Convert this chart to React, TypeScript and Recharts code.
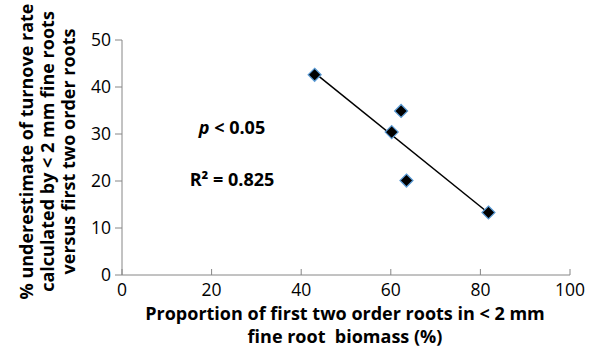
import React from "react";
import { ScatterChart, Scatter, XAxis, YAxis, Label } from "recharts";

// values
const proportion = [43, 62.3, 60.2, 63.5, 81.8];
const underestimate = [42.6, 34.9, 30.4, 20.1, 13.3];
const fitX = [43, 81.8];
const fitY = [43.0, 13.2];
const xTicks = [0, 20, 40, 60, 80, 100];
const yTicks = [0, 10, 20, 30, 40, 50];

const points = proportion.map((x, i) => ({ x, y: underestimate[i] }));
const fit = fitX.map((x, i) => ({ x, y: fitY[i] }));

const FONT = "'Open Sans', sans-serif";
const AXIS = "#868686";

const Diamond = (p: any) => {
  const { cx, cy } = p;
  const r = 6.5;
  return (
    <polygon
      points={`${cx},${cy - r} ${cx + r},${cy} ${cx},${cy + r} ${cx - r},${cy}`}
      fill="#000"
      stroke="#5b9bd5"
      strokeWidth={1.2}
    />
  );
};

const XTick = (p: any) => {
  const { x, y, payload } = p;
  return (
    <g>
      <line x1={x} x2={x} y1={y - 6} y2={y} stroke={AXIS} />
      <text x={x} y={y + 21} textAnchor="middle" fontSize={17.5} fill="#000" fontFamily={FONT}>
        {payload.value}
      </text>
    </g>
  );
};

const XTitle = (p: any) => {
  const { x, y, width } = p.viewBox;
  const cx = x + width / 2 - 1;
  return (
    <g fontSize={18} fontWeight="bold" fontFamily={FONT} fill="#000">
      <text x={cx} y={y + 45} textAnchor="middle">
        Proportion of first two order roots in &lt; 2 mm
      </text>
      <text x={cx} y={y + 68} textAnchor="middle" style={{ whiteSpace: "pre" }}>
        fine root  biomass (%)
      </text>
    </g>
  );
};

const YTitle = (p: any) => {
  const { y, height } = p.viewBox;
  const cy = y + height / 2 - 6;
  const lines = [
    "% underestimate of turnove rate",
    "calculated by < 2 mm fine roots",
    "versus first two order roots",
  ];
  const base = [33, 54, 75];
  return (
    <g>
      {lines.map((l, i) => (
        <text
          key={i}
          transform={`translate(${base[i]},${cy}) rotate(-90)`}
          textAnchor="middle"
          fontSize={18}
          fontWeight="bold"
          fontFamily={FONT}
          fill="#000"
        >
          {l}
        </text>
      ))}
    </g>
  );
};

export default function App() {
  return (
    <div style={{ position: "absolute", left: 0, top: 0, background: "#fff" }}>
      <ScatterChart width={599} height={347} margin={{ top: 40, right: 29, bottom: 0, left: 0 }}>
        <XAxis
          type="number"
          dataKey="x"
          domain={[0, 100]}
          ticks={xTicks}
          stroke={AXIS}
          tickLine={false}
          tickSize={0}
          tickMargin={0}
          height={72}
          tick={<XTick />}
          interval={0}
        >
          <Label content={<XTitle />} />
        </XAxis>
        <YAxis
          type="number"
          dataKey="y"
          domain={[0, 50]}
          ticks={yTicks}
          stroke={AXIS}
          width={122}
          tickSize={7}
          tickMargin={4}
          interval={0}
          tick={{ fill: "#000", fontSize: 17.5, fontFamily: FONT }}
        >
          <Label content={<YTitle />} />
        </YAxis>
        <Scatter
          data={fit}
          line={{ stroke: "#000", strokeWidth: 1.5 }}
          shape={() => <g />}
          isAnimationActive={false}
        />
        <Scatter data={points} shape={<Diamond />} isAnimationActive={false} />
        <text x={232} y={134} textAnchor="middle" fontSize={18} fontWeight="bold" fontFamily={FONT}>
          <tspan fontStyle="italic">p</tspan> &lt; 0.05
        </text>
        <text x={232} y={186} textAnchor="middle" fontSize={18} fontWeight="bold" fontFamily={FONT}>
          R² = 0.825
        </text>
      </ScatterChart>
    </div>
  );
}
